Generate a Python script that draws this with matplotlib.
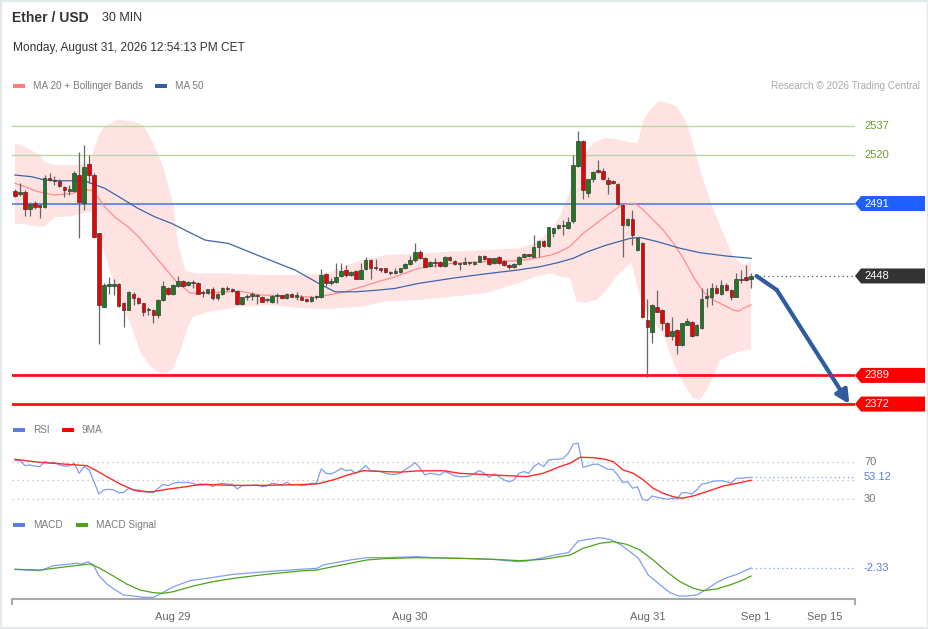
import numpy as np
import matplotlib
matplotlib.use("Agg")
import matplotlib.pyplot as plt
from matplotlib.patches import Polygon, Rectangle
from matplotlib.transforms import blended_transform_factory

plt.rcParams['font.family'] = ['Liberation Sans', 'DejaVu Sans']

# ---- data (30 min candles, Ether / USD) ----
opens = [2498.6, 2496.6, 2498.0, 2487.9, 2491.1, 2490.0, 2488.7, 2505.9, 2504.9, 2504.5,
         2500.6, 2498.4, 2498.4, 2507.9, 2491.1, 2514.4, 2507.9, 2473.3, 2429.7, 2442.2,
         2442.0, 2443.5, 2432.1, 2428.1, 2437.2, 2435.0, 2431.7, 2427.7, 2428.1, 2424.7,
         2433.6, 2440.6, 2437.2, 2442.0, 2445.0, 2442.6, 2444.6, 2444.0, 2438.6, 2438.0,
         2440.4, 2434.7, 2437.6, 2440.6, 2440.4, 2439.3, 2431.4, 2435.5, 2436.0, 2436.8,
         2435.7, 2433.5, 2432.5, 2436.1, 2436.7, 2434.7, 2437.6, 2435.7, 2435.7, 2434.5,
         2433.3, 2435.3, 2435.5, 2449.1, 2444.0, 2444.6, 2447.9, 2451.5, 2448.5, 2451.1,
         2446.5, 2451.9, 2457.4, 2453.5, 2452.5, 2452.5, 2450.5, 2450.0, 2450.5, 2452.5,
         2455.1, 2457.5, 2462.0, 2458.5, 2453.9, 2456.5, 2456.5, 2454.0, 2459.4, 2457.1,
         2455.1, 2455.3, 2455.6, 2455.1, 2456.5, 2459.8, 2458.5, 2455.5, 2459.4, 2457.0,
         2454.5, 2453.2, 2455.1, 2459.0, 2460.8, 2459.4, 2465.4, 2469.0, 2465.8, 2473.7,
         2476.3, 2477.4, 2476.3, 2480.8, 2513.3, 2528.3, 2497.0, 2505.4, 2510.9, 2510.5,
         2504.9, 2504.5, 2502.6, 2490.1, 2478.2, 2481.6, 2463.4, 2467.8, 2421.9, 2415.0,
         2429.8, 2427.8, 2420.0, 2412.4, 2415.9, 2407.0, 2419.1, 2420.9, 2412.9, 2416.9,
         2434.9, 2435.7, 2440.7, 2437.3, 2442.6, 2439.7, 2435.7, 2446.0, 2447.2, 2446.0]
highs = [2499.6, 2503.0, 2499.0, 2492.0, 2492.6, 2491.0, 2507.9, 2508.9, 2507.3, 2505.3,
         2501.4, 2502.0, 2510.3, 2521.8, 2525.7, 2519.8, 2508.9, 2473.7, 2443.6, 2447.5,
         2446.5, 2443.9, 2432.7, 2439.0, 2438.6, 2435.6, 2432.1, 2429.7, 2428.7, 2434.5,
         2445.1, 2441.2, 2443.2, 2448.1, 2445.5, 2444.8, 2445.6, 2444.6, 2439.6, 2439.8,
         2441.4, 2438.0, 2441.2, 2442.0, 2441.0, 2439.8, 2435.7, 2437.3, 2438.5, 2437.5,
         2436.3, 2435.0, 2436.5, 2438.0, 2437.0, 2437.8, 2438.0, 2438.7, 2436.5, 2435.0,
         2436.0, 2436.5, 2451.9, 2449.5, 2446.6, 2455.5, 2455.5, 2454.5, 2451.0, 2451.5,
         2455.9, 2459.0, 2457.8, 2458.0, 2453.0, 2453.0, 2451.0, 2452.5, 2453.0, 2455.5,
         2459.8, 2467.4, 2463.4, 2459.0, 2457.0, 2458.5, 2457.0, 2459.6, 2459.8, 2457.5,
         2455.5, 2459.5, 2456.2, 2456.6, 2460.3, 2460.4, 2458.9, 2458.9, 2459.8, 2457.4,
         2455.1, 2455.5, 2459.8, 2461.4, 2461.2, 2472.3, 2469.4, 2469.4, 2477.3, 2476.6,
         2478.6, 2481.2, 2483.2, 2519.8, 2534.2, 2528.7, 2505.8, 2510.5, 2516.8, 2511.9,
         2506.5, 2505.2, 2503.4, 2490.5, 2482.2, 2487.1, 2471.0, 2468.2, 2434.1, 2431.2,
         2439.7, 2428.2, 2420.4, 2423.8, 2416.3, 2420.3, 2422.9, 2421.3, 2419.3, 2440.7,
         2440.7, 2443.7, 2442.6, 2445.6, 2443.6, 2440.1, 2449.6, 2451.5, 2454.5, 2449.6]
lows = [2494.6, 2495.5, 2483.5, 2483.5, 2488.0, 2482.2, 2488.3, 2504.5, 2502.0, 2500.8,
        2495.0, 2496.0, 2497.8, 2470.3, 2487.1, 2503.0, 2470.3, 2407.9, 2429.3, 2437.2,
        2436.6, 2429.7, 2417.8, 2427.7, 2430.7, 2431.3, 2424.1, 2424.7, 2419.8, 2422.8,
        2433.2, 2437.0, 2436.6, 2441.6, 2441.6, 2442.0, 2441.0, 2437.2, 2435.7, 2437.4,
        2434.0, 2433.5, 2437.0, 2439.0, 2438.6, 2430.5, 2430.5, 2433.7, 2433.7, 2431.5,
        2432.3, 2432.5, 2432.0, 2431.8, 2434.3, 2434.3, 2435.3, 2433.7, 2433.6, 2432.5,
        2432.8, 2434.5, 2435.2, 2442.0, 2442.6, 2443.6, 2447.5, 2447.5, 2447.8, 2446.0,
        2446.3, 2451.5, 2446.5, 2451.5, 2450.5, 2449.8, 2448.7, 2449.0, 2450.0, 2452.0,
        2454.5, 2456.5, 2458.0, 2453.2, 2453.4, 2453.5, 2453.6, 2453.5, 2456.9, 2454.5,
        2451.5, 2455.0, 2454.5, 2454.6, 2456.1, 2457.4, 2454.6, 2455.1, 2455.4, 2454.1,
        2452.0, 2452.8, 2454.8, 2458.6, 2459.2, 2459.0, 2459.4, 2465.4, 2465.4, 2470.9,
        2475.8, 2472.3, 2475.9, 2479.2, 2512.7, 2493.5, 2495.1, 2504.0, 2509.3, 2505.0,
        2496.6, 2502.8, 2490.3, 2459.5, 2477.8, 2466.4, 2463.0, 2422.9, 2388.3, 2408.0,
        2426.4, 2416.0, 2411.8, 2410.0, 2401.7, 2406.6, 2418.7, 2412.0, 2412.4, 2416.5,
        2429.4, 2430.8, 2437.3, 2436.9, 2439.3, 2433.7, 2435.3, 2443.6, 2445.2, 2440.7]
closes = [2495.6, 2497.8, 2487.5, 2490.7, 2489.1, 2488.7, 2505.9, 2504.9, 2504.5, 2501.4,
          2499.0, 2499.6, 2509.3, 2492.1, 2512.8, 2507.9, 2470.9, 2430.7, 2442.6, 2443.2,
          2443.5, 2430.3, 2428.1, 2438.2, 2435.2, 2431.7, 2426.7, 2428.1, 2425.1, 2433.6,
          2442.0, 2437.6, 2442.6, 2445.1, 2442.2, 2444.2, 2443.6, 2437.6, 2438.0, 2440.4,
          2434.7, 2437.6, 2440.6, 2440.0, 2439.3, 2431.4, 2435.5, 2436.0, 2437.6, 2436.0,
          2432.7, 2434.0, 2436.1, 2436.7, 2434.7, 2437.6, 2435.7, 2436.5, 2434.0, 2433.3,
          2435.7, 2435.9, 2448.5, 2444.0, 2445.0, 2447.1, 2451.1, 2448.5, 2450.5, 2446.5,
          2451.5, 2457.4, 2452.5, 2452.5, 2451.5, 2450.5, 2449.5, 2450.2, 2452.5, 2455.1,
          2457.5, 2462.0, 2458.5, 2453.5, 2456.5, 2455.6, 2454.0, 2459.0, 2457.5, 2455.1,
          2455.3, 2455.6, 2455.9, 2456.5, 2459.8, 2457.9, 2455.1, 2458.5, 2455.9, 2454.5,
          2453.5, 2455.1, 2459.4, 2461.0, 2459.6, 2465.4, 2469.0, 2465.8, 2476.9, 2476.3,
          2478.2, 2477.9, 2480.2, 2513.9, 2528.3, 2499.0, 2505.4, 2509.9, 2510.0, 2505.4,
          2502.6, 2503.4, 2490.7, 2478.2, 2481.8, 2472.3, 2470.3, 2423.9, 2417.9, 2430.8,
          2426.8, 2419.9, 2412.4, 2415.5, 2407.0, 2419.9, 2421.5, 2412.4, 2418.9, 2434.3,
          2436.0, 2440.7, 2437.7, 2442.6, 2439.7, 2435.7, 2446.0, 2445.8, 2445.6, 2448.0]

# Bollinger band edges and moving averages, read at sample candles
ub_x = [0, 2, 5, 6, 8, 11.5, 15, 17, 18, 21, 24, 26, 28, 30, 32, 33, 34.5, 36.5, 43, 50,
        57, 63, 70, 75, 82, 88, 95, 102, 105.3, 108.6, 110.6, 112.7, 114, 115.4, 117, 119,
        121, 124, 126, 127.2, 128.5, 130.5, 132, 134, 136, 138, 139.3, 141.4, 143.4, 145.4,
        147.4, 149]
ub_y = [2526.7, 2524.7, 2519.8, 2515.8, 2513.8, 2513.8, 2514.8, 2531.6, 2536.6, 2541.0,
        2539.6, 2537.6, 2526.7, 2512.8, 2491.0, 2467.3, 2451.4, 2449.5, 2449.5, 2448.6,
        2448.6, 2449.5, 2457.4, 2460.5, 2461.4, 2462.4, 2463.4, 2464.4, 2467.4, 2475.3,
        2485.2, 2501.0, 2514.8, 2520.8, 2526.7, 2529.7, 2529.7, 2527.7, 2526.7, 2540.6,
        2546.5, 2552.0, 2550.8, 2548.5, 2538.6, 2518.8, 2505.0, 2487.2, 2473.3, 2459.5,
        2454.5, 2456.5]
lb_x = [0, 2, 4.7, 6, 8, 11.5, 15, 16.2, 17.5, 19.6, 21.6, 23.6, 25.5, 27.5, 29.4, 30.8,
        32, 33.5, 34.8, 36, 39, 45.5, 51.6, 57, 63, 70, 75, 81.7, 88.4, 95.1, 101.9, 105.3,
        108.6, 110.3, 112.4, 113.7, 115.1, 117.8, 119.8, 121.8, 123.8, 124.8, 126.5, 128.5,
        130.6, 131.9, 133.3, 135.3, 137.3, 138.7, 140, 141.4, 142.7, 145.4, 148.1, 149]
lb_y = [2479.2, 2478.6, 2477.2, 2477.5, 2482.8, 2483.5, 2486.1, 2485.0, 2467.3, 2447.5,
        2431.7, 2417.8, 2402.0, 2394.0, 2390.4, 2390.4, 2393.0, 2404.0, 2415.9, 2423.7,
        2426.6, 2429.6, 2430.8, 2429.0, 2428.5, 2429.6, 2432.8, 2433.8, 2435.7, 2437.7,
        2443.6, 2447.6, 2449.6, 2447.6, 2446.6, 2432.8, 2431.8, 2433.8, 2439.7, 2447.6,
        2453.5, 2455.5, 2435.7, 2423.9, 2416.0, 2408.0, 2396.2, 2384.3, 2375.4, 2374.4,
        2380.3, 2388.3, 2398.0, 2402.0, 2404.0, 2404.0]
ma20_x = [0, 2, 4.7, 8, 11.5, 14.2, 15.5, 17, 18.2, 20.2, 23, 25, 27.3, 30.7, 32.7, 35.4,
          38.8, 43.2, 45.5, 49.9, 56.7, 60.7, 63.4, 66.8, 70.2, 73.5, 76.9, 81.7, 88.4,
          95.1, 101.9, 105.3, 108.6, 110.3, 112.3, 115, 117.7, 120.4, 122.5, 124.5, 125.8,
          127.2, 129.2, 131.2, 133.3, 135.3, 137.3, 139.3, 141.4, 143.4, 145.4, 146.5,
          147.4, 149]
ma20_y = [2503.0, 2501.0, 2498.0, 2496.0, 2497.0, 2499.0, 2499.0, 2494.0, 2489.0, 2483.0,
          2477.0, 2471.3, 2463.4, 2451.5, 2444.6, 2437.9, 2437.9, 2438.6, 2439.0, 2436.7,
          2436.1, 2435.3, 2436.7, 2438.6, 2441.6, 2444.6, 2447.5, 2452.5, 2455.5, 2456.5,
          2457.1, 2458.5, 2460.5, 2462.4, 2465.4, 2473.3, 2479.2, 2485.2, 2489.5, 2491.1,
          2490.5, 2487.2, 2481.2, 2475.3, 2467.4, 2458.5, 2447.6, 2438.7, 2433.7, 2430.8,
          2427.8, 2427.2, 2428.8, 2430.8]
ma50_x = [0, 3.4, 6.1, 8.8, 11.5, 14.2, 18.2, 21.6, 24.9, 28.3, 31.7, 35.1, 38.5, 43.2,
          49.9, 56.7, 62.1, 64.8, 68.9, 73.5, 76.9, 81.7, 88.4, 95.1, 101.9, 106.3, 110,
          113, 116, 119.8, 124.5, 126.5, 130, 134.7, 138.7, 144.1, 149]
ma50_y = [2507.9, 2506.9, 2504.9, 2504.5, 2504.5, 2504.3, 2500.0, 2494.0, 2488.1, 2483.1,
          2479.2, 2474.2, 2469.3, 2467.3, 2459.4, 2451.5, 2442.6, 2438.6, 2438.6, 2439.6,
          2440.6, 2443.6, 2446.6, 2449.2, 2451.6, 2453.5, 2456.0, 2458.5, 2462.5, 2466.4,
          2470.3, 2470.9, 2468.4, 2464.4, 2461.8, 2459.8, 2458.5]

levels_res = [2537, 2520]
level_pivot = 2491
levels_sup = [2389, 2372]

rsi = [71.5, 71.5, 66.0, 66.7, 65.6, 64.9, 70.4, 69.3, 69.6, 66.7,
       65.6, 65.6, 68.5, 57.6, 64.9, 61.3, 48.5, 35.1, 39.5, 40.2,
       39.5, 36.5, 36.5, 41.3, 39.5, 37.6, 37.6, 36.9, 36.5, 41.3,
       45.6, 44.2, 46.7, 47.8, 47.5, 47.8, 46.7, 44.5, 44.9, 46.0,
       43.1, 46.0, 46.7, 46.0, 45.6, 40.5, 44.2, 44.2, 44.5, 44.9,
       43.1, 43.8, 46.7, 46.0, 44.9, 47.8, 44.9, 45.6, 44.2, 44.9,
       46.7, 46.7, 62.4, 57.6, 56.9, 59.5, 63.1, 60.5, 61.3, 57.6,
       61.3, 66.0, 60.5, 60.2, 59.5, 57.6, 56.5, 56.5, 57.6, 62.0,
       64.9, 69.3, 63.1, 55.8, 57.6, 56.9, 55.8, 59.5, 57.6, 54.7,
       54.0, 54.0, 54.7, 57.6, 60.5, 57.6, 53.3, 56.9, 54.0, 50.4,
       48.5, 50.4, 57.6, 59.5, 57.6, 64.9, 68.5, 64.9, 72.2, 72.9,
       72.9, 74.0, 79.5, 89.6, 90.4, 64.2, 65.6, 67.5, 67.5, 64.9,
       62.0, 62.0, 55.8, 47.5, 48.5, 41.3, 43.1, 29.3, 27.8, 32.9,
       31.5, 30.4, 29.3, 30.4, 29.6, 36.5, 36.5, 35.1, 39.5, 46.0,
       46.7, 48.5, 49.3, 49.6, 48.5, 46.7, 52.2, 52.2, 52.9, 53.12]
rsi_ma_x = [0, 5, 10.5, 14.5, 16, 18.6, 21.3, 24, 26.7, 28, 30.7, 34.8, 37.4, 44.2, 50.9,
            57.7, 61.1, 64.4, 67.8, 70.5, 74.6, 77.9, 81.3, 86.7, 90.1, 96.8, 103.6, 106.9,
            110.3, 112.3, 114.4, 117.1, 119.1, 121.1, 123.1, 125.2, 127.2, 129.2, 131.2,
            133.2, 134.9, 137.3, 140, 143.4, 146.1, 149]
rsi_ma_y = [72.9, 69.6, 67.5, 66.0, 62.0, 54.0, 46.0, 39.5, 37.6, 37.6, 40.2, 43.1, 45.6,
            44.5, 44.5, 45.3, 46.0, 50.4, 56.5, 60.5, 59.5, 58.9, 60.2, 60.5, 57.6, 55.8,
            54.0, 57.6, 64.9, 68.5, 75.1, 74.7, 73.3, 70.4, 61.3, 57.6, 50.4, 41.3, 35.8,
            32.2, 30.4, 32.9, 37.6, 43.8, 46.7, 50.0]

macd_x = [0, 2.4, 5.1, 7.8, 10.5, 12.5, 13.5, 14.8, 15.9, 16.9, 18.6, 20.3, 22, 24, 26, 28,
          29.4, 32.1, 35.4, 38.8, 44.2, 50.9, 57.7, 61.1, 62.4, 67.8, 71.2, 74.6, 81.3, 84.7,
          90.1, 96.8, 101.6, 103.6, 106.3, 108.3, 110.3, 112, 114, 116.1, 118.4, 120.4, 122.5,
          124.5, 126.2, 128.2, 130.6, 132.6, 134.3, 135.9, 138, 140, 142, 144.1, 146.1,
          148.1, 149]
macd_y = [-2.73, -2.93, -3.13, -1.63, -1.23, -0.93, -1.13, -0.43, -1.43, -4.43, -7.13,
          -8.93, -10.43, -10.73, -11.13, -11.13, -10.13, -7.93, -6.13, -5.43, -4.23, -3.43,
          -2.73, -2.43, -1.43, 0.07, 0.77, 0.77, 1.07, 0.77, 0.57, 0.27, -0.43, -0.23, 0.57,
          1.27, 1.87, 2.27, 5.77, 6.27, 6.77, 6.27, 4.77, 2.57, 0.57, -4.43, -7.43, -9.73,
          -10.73, -10.73, -10.43, -8.73, -6.73, -5.23, -4.23, -2.93, -2.33]
sig_x = [0, 5.1, 10.5, 15.2, 17.2, 19.9, 22.6, 25.3, 28, 30, 32.1, 36.1, 40.1, 44.2, 50.9,
         57.7, 61.1, 64.4, 67.8, 71.2, 74.6, 81.3, 90.1, 96.8, 102.2, 106.9, 112.4, 115,
         118.4, 121.1, 123.8, 126.5, 129.2, 131.9, 134.6, 137.3, 139.3, 142, 144.7, 147.4, 149]
sig_y = [-2.73, -2.93, -1.93, -1.13, -2.43, -4.73, -7.13, -8.93, -9.73, -9.93, -9.43, -7.73,
         -6.43, -5.43, -4.23, -3.23, -2.93, -1.93, -0.93, 0.07, 0.47, 0.77, 0.57, 0.27,
         -0.13, 0.27, 1.57, 3.57, 5.07, 5.57, 4.77, 3.07, 0.07, -3.43, -6.43, -8.43, -9.13,
         -8.63, -7.43, -5.93, -4.73]

tick_pos = [32, 80, 128, 150, 164]
tick_lab = ['Aug 29', 'Aug 30', 'Aug 31', 'Sep 1', 'Sep 15']

# ---- figure ----
W, H = 929, 629
fig = plt.figure(figsize=(W / 100, H / 100), dpi=100)
fig.patch.set_facecolor('white')

def box(y_top, y_bot):
    return [12 / W, 1 - y_bot / H, 843 / W, (y_bot - y_top) / H]

ax = fig.add_axes(box(95, 415))
ax_rsi = fig.add_axes(box(440, 508))
ax_macd = fig.add_axes(box(530, 599.3))
xlim = (-0.6, 170.04)
for a in (ax, ax_rsi, ax_macd):
    a.set_xlim(*xlim)
    a.set_facecolor('none')
    for s in a.spines.values():
        s.set_visible(False)
    a.set_yticks([])
    a.set_xticks([])

ax.set_ylim(2365.5, 2555.4)
ax_rsi.set_ylim(19.78, 93.96)
ax_macd.set_ylim(-11.72, 9.07)

label_x0 = 855 / W
label_tx = 864 / W

# bands and averages
ax.fill(np.concatenate([ub_x, lb_x[::-1]]), np.concatenate([ub_y, lb_y[::-1]]),
        color='#ffe3e3', lw=0, zorder=1)
ax.plot(ma20_x, ma20_y, color='#ff8c8c', lw=0.9, zorder=2)
ax.plot(ma50_x, ma50_y, color='#3a66a8', lw=0.9, zorder=2)

# level lines
for lv in levels_res:
    ax.axhline(lv, color='#b5d99c', lw=1.0, zorder=1.5)
ax.axhline(level_pivot, color='#5b86e0', lw=1.3, zorder=1.5)
for lv in levels_sup:
    ax.axhline(lv, color='#ff1010', lw=2.0, zorder=1.5)

# candles
idx = np.arange(len(closes))
o = np.array(opens)
c = np.array(closes)
up = c >= o
ax.vlines(idx, lows, highs, color='#666666', lw=0.9, zorder=3)
bottoms = np.minimum(o, c)
heights = np.maximum(np.abs(c - o), 0.7)
ax.bar(idx, heights, bottom=bottoms, width=0.72,
       color=np.where(up, '#1f7a1f', '#f20000'), edgecolor='#3a3a3a', lw=0.5, zorder=4)

# last price dotted line + forecast arrow
ax.hlines(closes[-1], len(closes) + 0.6, xlim[1], color='#555555', lw=0.9,
          linestyles=(0, (1, 2.5)), zorder=2)
mid = (len(closes) + 4.2, closes[-1] - 8.3)
ax.plot([len(closes) + 0.1, mid[0]], [closes[-1], mid[1]], color='#2f5c9e', lw=3,
        solid_capstyle='round', zorder=5)
ax.annotate('', xy=(168.9, levels_sup[1]), xytext=mid,
            arrowprops=dict(arrowstyle='-|>', color='#2f5c9e', lw=3, mutation_scale=20,
                            shrinkA=0, shrinkB=0), zorder=5, annotation_clip=False)

# right side labels
tr = blended_transform_factory(fig.transFigure, ax.transData)
ppx = (2555.4 - 2365.5) / 320.0
for lv in levels_res:
    ax.text(label_tx, lv, str(lv), transform=tr, color='#6f9d2c', fontsize=8,
            va='center', ha='left')

def tag(val, color):
    hh = 7.5 * ppx
    pts = [(label_x0, val), (label_x0 + 6 / W, val + hh), (925 / W, val + hh),
           (925 / W, val - hh), (label_x0 + 6 / W, val - hh)]
    ax.add_patch(Polygon(pts, closed=True, transform=tr, facecolor=color,
                         edgecolor='none', clip_on=False, zorder=6))
    ax.text(label_tx, val, str(val), transform=tr, color='white', fontsize=8,
            va='center', ha='left', zorder=7)

tag(level_pivot, '#1f5fff')
tag(int(round(closes[-1])), '#333333')
for lv in levels_sup:
    tag(lv, '#ff0000')

# RSI panel
for lv in (70, 50, 30):
    ax_rsi.axhline(lv, color='#b8b8b8', lw=0.9, ls=(0, (1, 3)))
ax_rsi.plot(idx, rsi, color='#7f9ef0', lw=0.9)
ax_rsi.plot(rsi_ma_x, rsi_ma_y, color='#ff2a2a', lw=1.0)
ax_rsi.hlines(rsi[-1], len(rsi) - 1, xlim[1], color='#7f9ef0', lw=0.9, linestyles=(0, (1, 2.5)))
trr = blended_transform_factory(fig.transFigure, ax_rsi.transData)
ax_rsi.text(label_tx, 70, '70', transform=trr, color='#777777', fontsize=8, va='center')
ax_rsi.text(label_tx, 30, '30', transform=trr, color='#777777', fontsize=8, va='center')
ax_rsi.text(label_tx, rsi[-1], f'{rsi[-1]:.2f}', transform=trr, color='#5b7fe0',
            fontsize=8, va='center')

# MACD panel
ax_macd.plot(macd_x, macd_y, color='#7f9ef0', lw=0.9)
ax_macd.plot(sig_x, sig_y, color='#4da31a', lw=0.9)
ax_macd.hlines(macd_y[-1], macd_x[-1], xlim[1], color='#7f9ef0', lw=0.9,
               linestyles=(0, (1, 2.5)))
trm = blended_transform_factory(fig.transFigure, ax_macd.transData)
ax_macd.text(label_tx, macd_y[-1], f'{macd_y[-1]:.2f}', transform=trm, color='#5b7fe0',
             fontsize=8, va='center')

# x axis
ax_macd.spines['bottom'].set_visible(True)
ax_macd.spines['bottom'].set_color('#aaaaaa')
ax_macd.spines['bottom'].set_linewidth(1.5)
ax_macd.set_xticks(tick_pos)
ax_macd.set_xticklabels(tick_lab)
ax_macd.tick_params(axis='x', length=0, pad=9, labelsize=8, labelcolor='#666666')
for xe in xlim:
    ax_macd.plot([xe, xe], [0, -0.07], transform=blended_transform_factory(ax_macd.transData, ax_macd.transAxes),
                 color='#aaaaaa', lw=1.5, clip_on=False)

# header and legends
def fx(px):
    return px / W

def fy(py):
    return 1 - py / H

fig.text(fx(12), fy(18), 'Ether / USD', fontsize=10, fontweight='bold', color='#333333', va='center')
fig.text(fx(102), fy(18), '30 MIN', fontsize=9, color='#333333', va='center')
fig.text(fx(13), fy(48), 'Monday, August 31, 2026 12:54:13 PM CET', fontsize=8.6,
         color='#333333', va='center')
fig.text(fx(920), fy(86), 'Research \u00a9 2026 Trading Central', fontsize=7.2,
         color='#aaaaaa', va='center', ha='right')

def legend_item(x, y, color, label):
    fig.patches.append(Rectangle((fx(x), fy(y + 2)), 12 / W, 4 / H, transform=fig.transFigure,
                                 facecolor=color, edgecolor='none'))
    fig.text(fx(x + 20), fy(y), label, fontsize=7.2, color='#7a7a7a', va='center')

legend_item(13, 86, '#ff7f7f', 'MA 20 + Bollinger Bands')
legend_item(155, 86, '#2f5fa0', 'MA 50')
legend_item(13, 430, '#5b7fe0', 'RSI')
legend_item(62, 430, '#ff0000', '9MA')
legend_item(13, 525, '#5b7fe0', 'MACD')
legend_item(76, 525, '#4da31a', 'MACD Signal')

fig.patches.append(Rectangle((0, 0), 1, 1, transform=fig.transFigure, fill=False,
                             edgecolor='#e2e9ec', lw=3))

fig.savefig('out.png', dpi=100)
